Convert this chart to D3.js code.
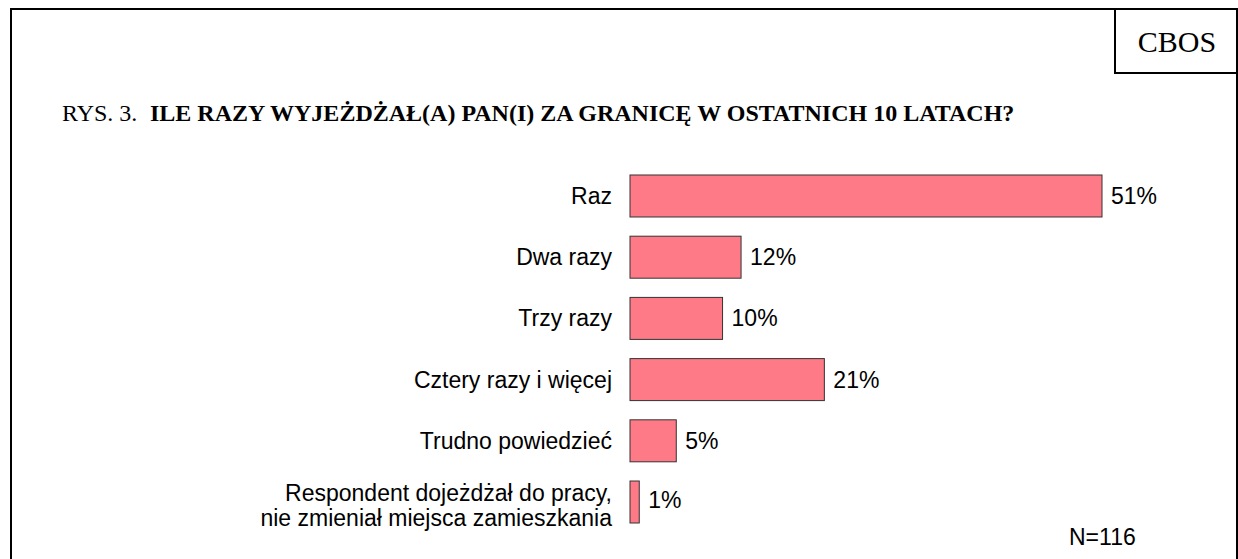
<!DOCTYPE html>
<html>
<head>
<meta charset="utf-8">
<script src="https://cdn.jsdelivr.net/npm/d3@7"></script>
<style>
  body { margin: 0; background: #fff; }
  .cat-label, .val-label, .note { font-family: "Liberation Sans", Arial, sans-serif; font-size: 23px; fill: #000; }
  .serif { font-family: "Liberation Serif", "Times New Roman", serif; fill: #000; }
</style>
</head>
<body>
<div id="chart"></div>
<script>
(function () {
  /* ----------------------- Data ----------------------- */
  const categories = [
    "Raz",
    "Dwa razy",
    "Trzy razy",
    "Cztery razy i więcej",
    "Trudno powiedzieć",
    "Respondent dojeżdżał do pracy,\nnie zmieniał miejsca zamieszkania",
  ];
  const values = [51, 12, 10, 21, 5, 1];
  const valueLabels = ["51%", "12%", "10%", "21%", "5%", "1%"];

  const data = categories.map((c, i) => ({ category: c, value: values[i], label: valueLabels[i] }));

  /* ----------------------- Dimensions ----------------------- */
  const width = 1238;
  const height = 559;

  const svg = d3
    .select("#chart")
    .append("svg")
    .attr("width", width)
    .attr("height", height);

  // Outer frame (bottom edge runs off the picture)
  svg.append("path")
    .attr("d", `M11,${height + 5} L11,9 L1237,9 L1237,${height + 5}`)
    .attr("fill", "none")
    .attr("stroke", "#000")
    .attr("stroke-width", 2);

  // CBOS box
  svg.append("rect")
    .attr("x", 1115)
    .attr("y", 9)
    .attr("width", 122)
    .attr("height", 64)
    .attr("fill", "none")
    .attr("stroke", "#000")
    .attr("stroke-width", 2);

  svg.append("text")
    .attr("class", "serif")
    .attr("x", 1177)
    .attr("y", 52)
    .attr("text-anchor", "middle")
    .style("font-size", "30px")
    .text("CBOS");

  // Title
  svg.append("text")
    .attr("class", "serif")
    .attr("x", 62)
    .attr("y", 121)
    .style("font-size", "24px")
    .text("RYS. 3.");

  svg.append("text")
    .attr("class", "serif")
    .attr("x", 150)
    .attr("y", 121)
    .style("font-size", "24px")
    .style("font-weight", "bold")
    .text("ILE RAZY WYJEŻDŻAŁ(A) PAN(I) ZA GRANICĘ W OSTATNICH 10 LATACH?");

  /* ----------------------- Scales ----------------------- */
  const yScale = d3.scaleBand()
    .domain(categories)
    .range([175, 523])
    .paddingInner(0.314)
    .paddingOuter(0);

  const xScale = d3.scaleLinear()
    .domain([0, 51])
    .range([630, 1102]);

  /* ----------------------- Bars ----------------------- */
  svg.selectAll(".bar")
    .data(data)
    .enter()
    .append("rect")
    .attr("class", "bar")
    .attr("x", xScale(0))
    .attr("y", (d) => yScale(d.category))
    .attr("width", (d) => xScale(d.value) - xScale(0))
    .attr("height", yScale.bandwidth())
    .attr("fill", "#ff7a87")
    .attr("stroke", "#333")
    .attr("stroke-width", 1);

  /* ----------------------- Labels ----------------------- */
  const catLabels = svg.selectAll(".cat-label")
    .data(data)
    .enter()
    .append("text")
    .attr("class", "cat-label")
    .attr("text-anchor", "end")
    .attr("y", (d) => yScale(d.category) + yScale.bandwidth() / 2);

  catLabels.each(function (d) {
    const lines = d.category.split("\n");
    const t = d3.select(this);
    lines.forEach((line, i) => {
      t.append("tspan")
        .attr("x", 612)
        .attr("dy", i === 0 ? `${0.35 - (lines.length - 1) * 0.4}em` : "1.1em")
        .text(line);
    });
  });

  svg.selectAll(".val-label")
    .data(data)
    .enter()
    .append("text")
    .attr("class", "val-label")
    .attr("x", (d) => xScale(d.value) + 9)
    .attr("y", (d) => yScale(d.category) + yScale.bandwidth() / 2)
    .attr("dy", (d, i) => (i === data.length - 1 ? "0.25em" : "0.35em"))
    .text((d) => d.label);

  svg.append("text")
    .attr("class", "note")
    .attr("x", 1069)
    .attr("y", 545)
    .text("N=116");
})();
</script>
</body>
</html>
